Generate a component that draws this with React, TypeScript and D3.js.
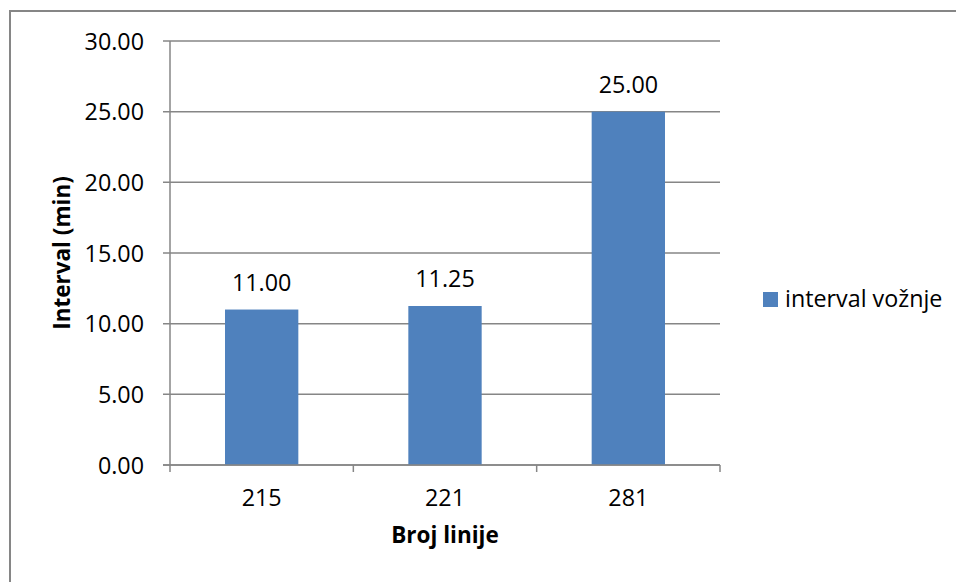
import React from "react";
import * as d3 from "d3";

const categories = ["215", "221", "281"];
const values = [11.0, 11.25, 25.0];
const yTicks = [0, 5, 10, 15, 20, 25, 30];
const seriesName = "interval vožnje";
const xTitle = "Broj linije";
const yTitle = "Interval (min)";

const W = 956;
const H = 582;
const FONT = "'Open Sans', 'Noto Sans', sans-serif";
const FS = 23.3;
const BAR = "#4F81BD";
const GRID = "#868686";

export default function App() {
  const left = 170, right = 720, top = 41, bottom = 465;
  const x = d3.scaleBand().domain(categories).range([left, right]).paddingInner(0).paddingOuter(0);
  const y = d3.scaleLinear().domain([0, 30]).range([bottom, top]);
  const bw = x.bandwidth() / 2.5;
  const bounds = [left, ...categories.map((c) => (x(c) as number) + x.bandwidth())];

  return (
    <svg width={W} height={H} style={{ position: "absolute", left: 0, top: 0, background: "#fff" }}>
      <rect x={10} y={11} width={2000} height={2000} fill="#fff" stroke={GRID} strokeWidth={2} />
      {yTicks.map((t) => (
        <g key={t}>
          <line x1={left - 7} x2={right} y1={y(t)} y2={y(t)} stroke={GRID} strokeWidth={1.5} />
          <text x={144} y={y(t) + 8.5} textAnchor="end" fontFamily={FONT} fontSize={FS} fill="#000">
            {t.toFixed(2)}
          </text>
        </g>
      ))}
      <line x1={left} x2={left} y1={top} y2={bottom} stroke={GRID} strokeWidth={1.5} />
      {bounds.map((b, i) => (
        <line key={i} x1={b} x2={b} y1={bottom} y2={bottom + 7} stroke={GRID} strokeWidth={1.5} />
      ))}
      {categories.map((c, i) => {
        const cx = (x(c) as number) + x.bandwidth() / 2;
        return (
          <g key={c}>
            <rect x={cx - bw / 2} y={y(values[i])} width={bw} height={bottom - y(values[i])} fill={BAR} />
            <text x={cx} y={y(values[i]) - 19} textAnchor="middle" fontFamily={FONT} fontSize={FS} fill="#000">
              {values[i].toFixed(2)}
            </text>
            <text x={cx} y={506} textAnchor="middle" fontFamily={FONT} fontSize={FS} fill="#000">
              {c}
            </text>
          </g>
        );
      })}
      <line x1={left - 7} x2={right} y1={bottom} y2={bottom} stroke={GRID} strokeWidth={1.5} />
      <text x={(left + right) / 2} y={543} textAnchor="middle" fontFamily={FONT} fontSize={FS - 0.8} fontWeight="bold" fill="#000">
        {xTitle}
      </text>
      <text
        transform={`translate(70, ${(top + bottom) / 2}) rotate(-90)`}
        textAnchor="middle"
        fontFamily={FONT}
        fontSize={FS - 0.8}
        fontWeight="bold"
        fill="#000"
      >
        {yTitle}
      </text>
      <rect x={763} y={292} width={15} height={15} fill={BAR} />
      <text x={785} y={307} fontFamily={FONT} fontSize={FS} fill="#000">
        {seriesName}
      </text>
    </svg>
  );
}
